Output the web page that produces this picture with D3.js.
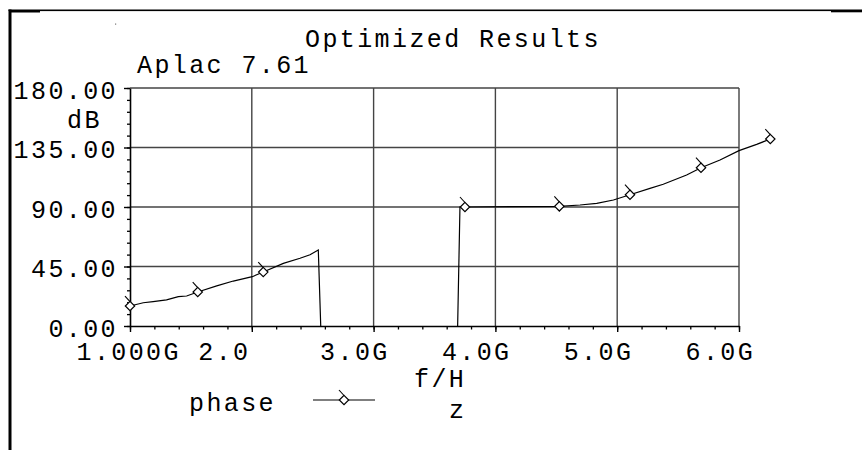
<!DOCTYPE html>
<html>
<head>
<meta charset="utf-8">
<script src="https://cdn.jsdelivr.net/npm/d3@7"></script>
<style>
  html, body { margin: 0; padding: 0; background: #fff; }
  svg text { font-family: "Liberation Mono", "DejaVu Sans Mono", monospace; font-size: 25px; letter-spacing: 2.4px; fill: #000; }
</style>
</head>
<body>
<svg id="chart" width="862" height="450"></svg>
<script>
// Phase trace (frequency in GHz, phase in degrees)
const phaseFreq = [1.000, 1.109, 1.19, 1.30, 1.397, 1.465, 1.556, 1.712, 1.848, 2.004, 2.094, 2.259, 2.396, 2.478, 2.546, 2.566,
                   null,
                   3.690, 3.709, 3.750, 4.525, 4.695, 4.832, 4.969, 5.105, 5.269, 5.378, 5.570, 5.688, 5.844, 6.000, 6.145, 6.257];
const phaseDeg  = [15.1, 17.6, 18.4, 19.7, 22.2, 22.7, 25.7, 30.3, 34.0, 37.3, 40.8, 47.4, 51.2, 53.9, 57.5, 0,
                   null,
                   0, 90, 90, 90.5, 91.5, 92.8, 95.3, 99.3, 104.1, 107.2, 114.2, 119.7, 125.5, 132.6, 137.4, 141.4];

// Marker positions along the trace
const markerFreq = [1.000, 1.556, 2.094, 3.750, 4.525, 5.105, 5.688, 6.257];
const markerDeg  = [15.1, 25.7, 40.8, 90, 90.5, 99.3, 119.7, 141.4];

// Axis ticks and labels
const xTicks = [1, 2, 3, 4, 5, 6];
const xTickLabels = ["1.000G", "2.0", "3.0G", "4.0G", "5.0G", "6.0G"];
const yTicks = [0, 45, 90, 135, 180];
const yTickLabels = ["0.00", "45.00", "90.00", "135.00", "180.00"];

const svg = d3.select("#chart");

// Frame around the page
svg.append("rect").attr("x", 0).attr("y", 0).attr("width", 862).attr("height", 450).attr("fill", "#fff");
svg.append("rect").attr("x", 8.5).attr("y", 9.5).attr("width", 3).attr("height", 441).attr("fill", "#000");
svg.append("rect").attr("x", 8.5).attr("y", 9.5).attr("width", 854).attr("height", 1.6).attr("fill", "#000");
svg.append("rect").attr("x", 10).attr("y", 10.5).attr("width", 30).attr("height", 2).attr("fill", "#000");
svg.append("rect").attr("x", 831).attr("y", 10.5).attr("width", 31).attr("height", 1.8).attr("fill", "#000");
svg.append("rect").attr("x", 115).attr("y", 23.5).attr("width", 1.2).attr("height", 1.2).attr("fill", "#777");

const x = d3.scaleLinear().domain([1, 6]).range([130, 739]);
const y = d3.scaleLinear().domain([0, 180]).range([326, 88]);

// Grid
const grid = svg.append("g").attr("stroke", "#444").attr("stroke-width", 1.4);
grid.selectAll("line.h").data(yTicks.filter(d => d > 0)).join("line")
  .attr("x1", x(1)).attr("x2", x(6)).attr("y1", d => y(d)).attr("y2", d => y(d));
grid.selectAll("line.v").data(xTicks.filter(d => d > 1)).join("line")
  .attr("y1", y(0)).attr("y2", y(180)).attr("x1", d => x(d)).attr("x2", d => x(d));

// Minor ticks
const yMinor = svg.append("g").attr("transform", `translate(${x(1)},0)`)
  .call(d3.axisLeft(y).tickValues(d3.range(0, 181, 9)).tickSize(3).tickFormat(""));
yMinor.select(".domain").remove();
yMinor.selectAll("line").attr("stroke", "#000").attr("stroke-width", 1.3);

const xMinor = svg.append("g").attr("transform", `translate(0,${y(0)})`)
  .call(d3.axisBottom(x).tickValues(d3.range(10, 61, 2).map(d => d / 10)).tickSize(3.5).tickFormat(""));
xMinor.select(".domain").remove();
xMinor.selectAll("line").attr("stroke", "#000").attr("stroke-width", 1.3);

// Y axis
const yAxis = svg.append("g").attr("transform", `translate(${x(1)},0)`)
  .call(d3.axisLeft(y).tickValues(yTicks).tickSize(6).tickSizeOuter(0)
    .tickFormat((d, i) => yTickLabels[i]));
yAxis.attr("font-family", null).attr("font-size", null);
yAxis.select(".domain").attr("stroke", "#000").attr("stroke-width", 1.6);
yAxis.selectAll("line").attr("stroke", "#000").attr("stroke-width", 1.4);
yAxis.selectAll("text").attr("x", -12).attr("dy", 10).attr("text-anchor", "end");

// X axis
const xAxis = svg.append("g").attr("transform", `translate(0,${y(0)})`)
  .call(d3.axisBottom(x).tickValues(xTicks).tickSize(6).tickSizeOuter(0)
    .tickFormat((d, i) => xTickLabels[i]));
xAxis.attr("font-family", null).attr("font-size", null);
xAxis.select(".domain").attr("stroke", "#000").attr("stroke-width", 1.6);
xAxis.selectAll("line").attr("stroke", "#000").attr("stroke-width", 1.4);
xAxis.selectAll("text").attr("x", -54).attr("y", 34).attr("dy", 0).attr("text-anchor", "start");

// Phase trace
const pts = phaseFreq.map((f, i) => [f, phaseDeg[i]]);
const line = d3.line()
  .defined(d => d[0] !== null && d[1] !== null)
  .x(d => x(d[0])).y(d => y(d[1]));
svg.append("path").datum(pts)
  .attr("d", line).attr("fill", "none").attr("stroke", "#000").attr("stroke-width", 1.2);

// Diamond marker with a short slanted stroke on its upper left
function drawMarker(g, cx, cy) {
  const m = g.append("g").attr("transform", `translate(${cx},${cy})`);
  m.append("path").attr("d", "M0,-4.7L4.7,0L0,4.7L-4.7,0Z")
    .attr("fill", "#fff").attr("stroke", "#000").attr("stroke-width", 1.2);
  m.append("line").attr("x1", -5).attr("y1", -10).attr("x2", 0).attr("y2", -4.5)
    .attr("stroke", "#000").attr("stroke-width", 1.1);
}
const markers = svg.append("g");
markerFreq.forEach((f, i) => drawMarker(markers, x(f), y(markerDeg[i])));

// Titles and axis captions
svg.append("text").attr("x", 305).attr("y", 47).text("Optimized Results");
svg.append("text").attr("x", 137).attr("y", 73).text("Aplac 7.61");
svg.append("text").attr("x", 67).attr("y", 128).text("dB");
svg.append("text").attr("x", 414).attr("y", 387).text("f/H");
svg.append("text").attr("x", 449).attr("y", 418).text("z");

// Legend
svg.append("text").attr("x", 189).attr("y", 411).text("phase");
svg.append("line").attr("x1", 313).attr("x2", 375).attr("y1", 400).attr("y2", 400)
  .attr("stroke", "#000").attr("stroke-width", 1.1);
drawMarker(svg, 344, 400);
</script>
</body>
</html>
